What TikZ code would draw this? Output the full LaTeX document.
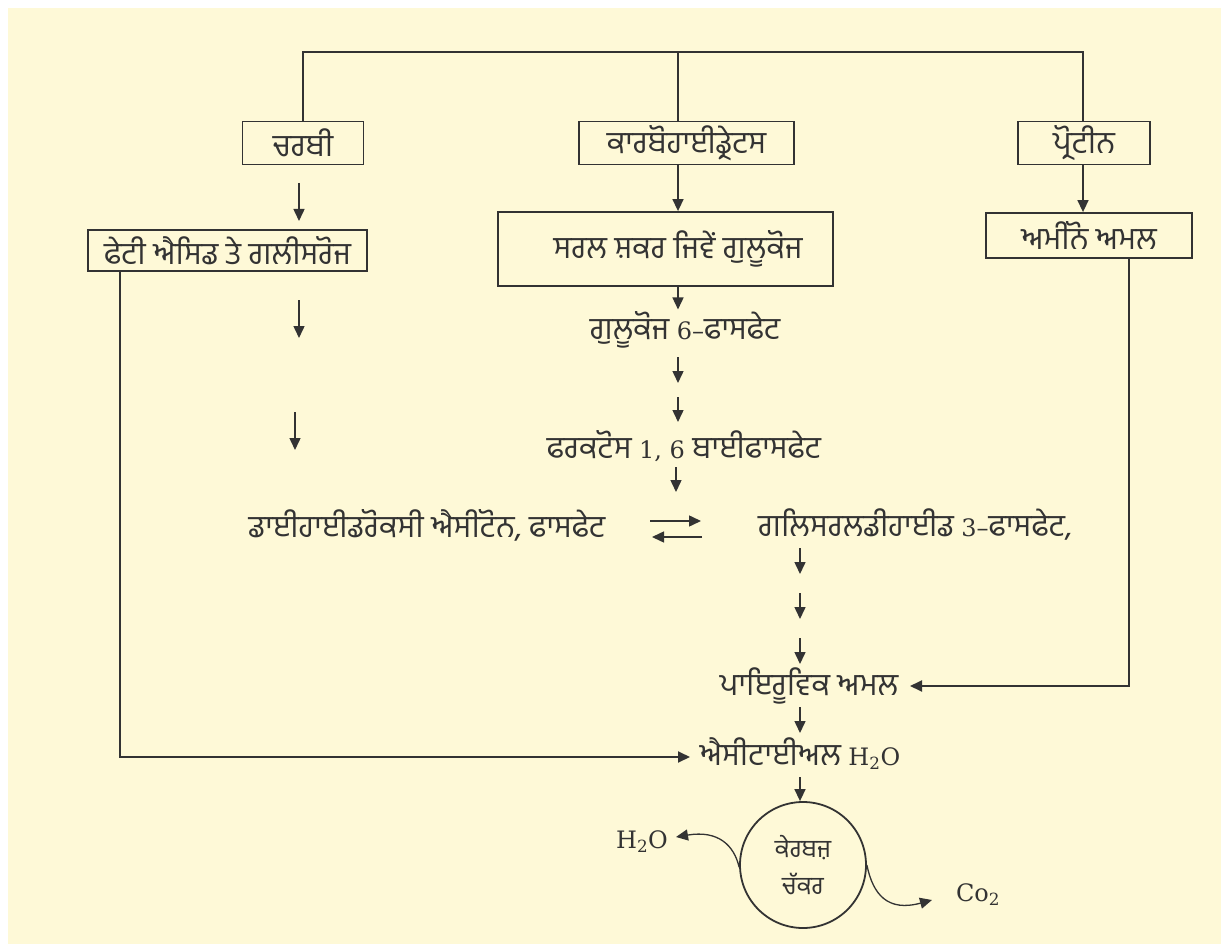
\documentclass[tikz,border=0pt]{standalone}
\usepackage{fontspec}
\usetikzlibrary{arrows.meta}
\newfontfamily\gur[Script=Gurmukhi]{Hind Jalandhar}
\newfontfamily\latserif{DejaVu Serif}
\definecolor{paper}{HTML}{FEF9D7}
\definecolor{ink}{HTML}{333333}
\newcommand{\lat}[1]{{\latserif\fontsize{24}{28}\selectfont #1}}
\begin{document}
\begin{tikzpicture}[x=1pt,y=-1pt,
  every node/.style={text=ink,font=\gur\fontsize{31}{36}\selectfont},
  box/.style={draw=ink,line width=1.8pt,fill=paper,inner sep=0pt},
  lbl/.style={inner sep=2pt},
  frame/.style={draw=ink,line width=2pt},
  arr/.style={draw=ink,line width=1.5pt,-{Triangle[length=12pt,width=11pt]}},
  barr/.style={draw=ink,line width=1.9pt,-{Triangle[length=12pt,width=11pt]}}]
% page and background
\useasboundingbox (0,0) rectangle (1221,944);
\fill[paper] (8,8) rectangle (1221,944);

% three food groups
\node[box,minimum width=121pt,minimum height=43pt] (fat) at (303,143) {ਚਰਬੀ};
\node[box,minimum width=215pt,minimum height=43pt] (carb) at (686.5,143) {ਕਾਰਬੋਹਾਈਡ੍ਰੇਟਸ};
\node[box,minimum width=132pt,minimum height=43pt] (prot) at (1084,143) {ਪ੍ਰੋਟੀਨ};

% top bracket joining the groups
\coordinate (tl) at (303,52);
\coordinate (tm) at (678,52);
\coordinate (tr) at (1083,52);
\draw[frame] (fat.north) -- (tl) -- (tr) -- (tr |- prot.north);
\draw[frame] (tm) -- (tm |- carb.north);

% second row
\node[box,minimum width=279pt,minimum height=41pt] (fa) at (227.5,250.5) {ਫੇਟੀ ਐਸਿਡ ਤੇ ਗਲੀਸਰੋਜ};
\node[box,minimum width=335pt,minimum height=74pt] (sug) at (665.5,249) {};
\node[lbl] (sugt) at (678,249) {ਸਰਲ ਸ਼ਕਰ ਜਿਵੇਂ ਗੁਲੂਕੋਜ};
\node[box,minimum width=206pt,minimum height=45pt] (amino) at (1089,235.5) {ਅਮੀਨੋ ਅਮਲ};

\draw[arr] (tm |- carb.south) -- (tm |- sug.north);
\draw[arr] (tr |- prot.south) -- (tr |- amino.north);

% glycolysis chain
\node[lbl] (g6p) at (685,330) {ਗੁਲੂਕੋਜ \lat{6–}ਫਾਸਫੇਟ};
\node[lbl] (f16) at (684,446) {ਫਰਕਟੋਸ \lat{1, 6} ਬਾਈਫਾਸਫੇਟ};
\node[lbl] (dhap) at (427,525) {ਡਾਈਹਾਈਡਰੋਕਸੀ ਐਸੀਟੋਨ, ਫਾਸਫੇਟ};
\node[lbl] (g3p) at (915,525) {ਗਲਿਸਰਲਡੀਹਾਈਡ \lat{3–}ਫਾਸਫੇਟ,};
\node[lbl] (pyr) at (809,686) {ਪਾਇਰੂਵਿਕ ਅਮਲ};
\node[lbl] (acet) at (800,754) {ਐਸੀਟਾਈਅਲ \lat{H\textsubscript{2}O}};

\draw[arr] (tm |- sug.south) -- (tm |- g6p.north);
\coordinate (a1) at (678,357); \coordinate (b1) at (678,383);
\coordinate (a2) at (678,397); \coordinate (b2) at (678,422);
\coordinate (a3) at (676,467); \coordinate (b3) at (676,492);
\draw[arr] (a1) -- (b1);
\draw[arr] (a2) -- (b2);
\draw[arr] (a3) -- (b3);

% fat side arrows
\coordinate (c1) at (299,183); \coordinate (d1) at (299,221);
\coordinate (c2) at (299,300); \coordinate (d2) at (299,338);
\coordinate (c3) at (295,412); \coordinate (d3) at (295,450);
\draw[arr] (c1) -- (d1);
\draw[arr] (c2) -- (d2);
\draw[arr] (c3) -- (d3);

% equilibrium between the triose phosphates
\coordinate (e1) at (650,521); \coordinate (e2) at (701,521);
\coordinate (e3) at (702,537); \coordinate (e4) at (652,537);
\draw[arr] (e1) -- (e2);
\draw[arr] (e3) -- (e4);

% down to pyruvate and acetyl
\coordinate (p1) at (800,548); \coordinate (q1) at (800,574);
\coordinate (p2) at (800,593); \coordinate (q2) at (800,619);
\coordinate (p3) at (800,638); \coordinate (q3) at (800,664);
\coordinate (p4) at (800,707); \coordinate (q4) at (800,733);
\coordinate (p5) at (800,777);
\draw[arr] (p1) -- (q1);
\draw[arr] (p2) -- (q2);
\draw[arr] (p3) -- (q3);
\draw[arr] (p4) -- (q4);

% side feeds
\draw[barr] (fa.south -| 120,0) -- (120,757) -- (690,757);
\draw[barr] (amino.south -| 1129,0) -- (1129,686) -- (910,686);

% Krebs cycle
\node[draw=ink,line width=1.8pt,circle,minimum size=126pt,inner sep=0pt,
      align=center,font=\gur\fontsize{25}{37}\selectfont] (krebs) at (803,865) {ਕੇਰਬਜ਼\\ਚੱਕਰ};
\draw[arr] (p5) -- (p5 |- krebs.north);
\node[lbl,font=\latserif\fontsize{24}{28}\selectfont] (h2o) at (642,842) {H\textsubscript{2}O};
\node[lbl,font=\latserif\fontsize{24}{28}\selectfont] (co2) at (978,895) {Co\textsubscript{2}};
\draw[arr,line width=1.3pt] (krebs.182) .. controls (734,845) and (718,830) .. (676,837);
\draw[arr,line width=1.3pt] (krebs.0) .. controls (873,895) and (888,912) .. (932,900);
\end{tikzpicture}
\end{document}
